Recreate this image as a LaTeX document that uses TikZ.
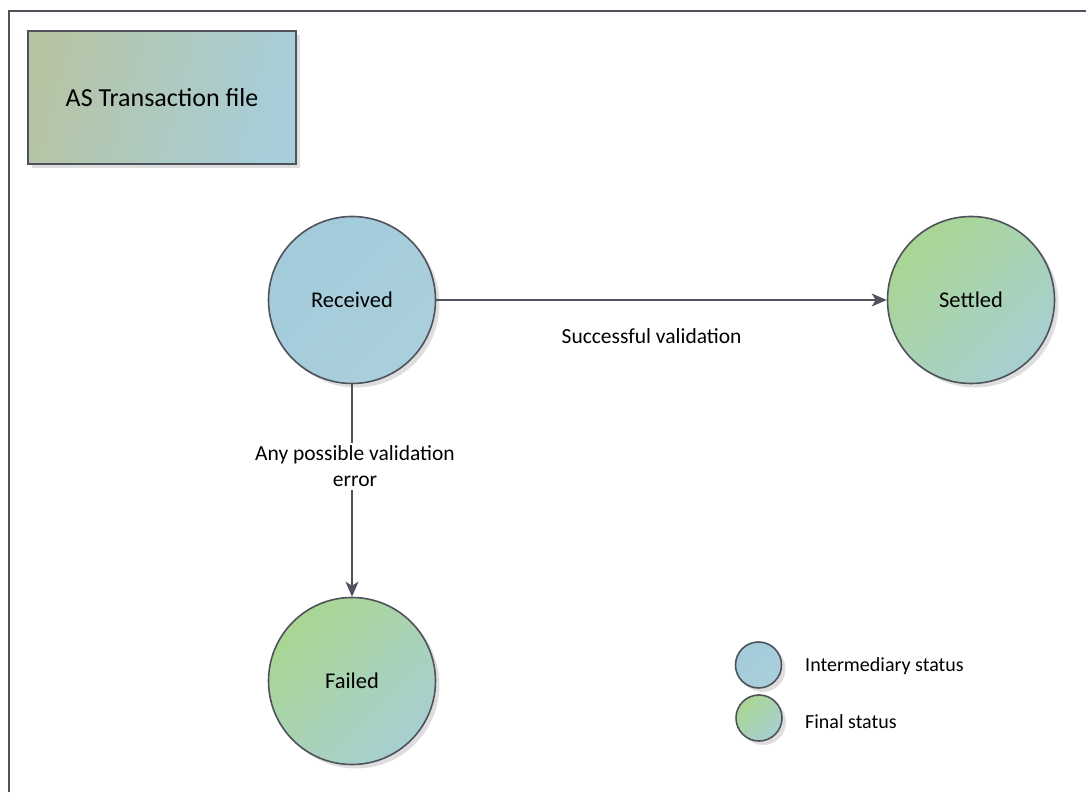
\documentclass[tikz,border=0pt]{standalone}
\usepackage{fontspec}
\setmainfont{Carlito}
\usetikzlibrary{arrows.meta,shadows,positioning}
\definecolor{edgecol}{HTML}{4F525B}
\definecolor{blueA}{HTML}{A3CBDA}
\definecolor{blueB}{HTML}{AACFDC}
\definecolor{greenA}{HTML}{A9D692}
\definecolor{greenB}{HTML}{A8CFD2}
\definecolor{boxA}{HTML}{B6C4A4}
\definecolor{boxB}{HTML}{A7CEDA}
\tikzset{
  x=1pt,y=1pt,
  shade1/.style={drop shadow={shadow xshift=4pt,shadow yshift=-4pt,fill=black!18,opacity=0.7}},
  statebox/.style={circle,draw=edgecol,line width=1.6pt,minimum size=167pt,inner sep=0pt,shade1,font=\fontsize{22.5}{27}\selectfont},
  interstate/.style={statebox,top color=blueA,bottom color=blueB,shading angle=45},
  finalstate/.style={statebox,top color=greenA,bottom color=greenB,shading angle=45},
  legendcirc/.style={circle,draw=edgecol,line width=1.6pt,minimum size=46pt,inner sep=0pt,shade1},
  legendtext/.style={anchor=west,inner sep=0pt,font=\fontsize{20}{24}\selectfont},
  conn/.style={draw=edgecol,line width=1.7pt,-{Stealth[length=15pt,width=13pt,inset=4pt]}},
  edgelabel/.style={fill=white,inner sep=3pt,align=center,font=\fontsize{21.5}{26}\selectfont}
}
\begin{document}
\begin{tikzpicture}
\useasboundingbox (0,0) rectangle (1086,792);
\fill[white] (0,0) rectangle (1086,792);
% frame
\draw[edgecol,line width=2.2pt] (9,0) -- (9,781) -- (1086,781);
% title box
\node[draw=edgecol,line width=1.6pt,minimum width=268pt,minimum height=133pt,inner sep=0pt,
      top color=boxA,bottom color=boxB,shading angle=75,shade1,font=\fontsize{26}{30}\selectfont]
      (title) at (162,694.5) {AS Transaction file};
% states
\node[interstate] (rec) at (352,492) {Received};
\node[finalstate] (set) at (971,492) {Settled};
\node[finalstate] (fail) at (352,111) {Failed};
% connectors
\draw[conn] (rec) -- node[pos=0.478,yshift=-36pt,inner sep=0pt,font=\fontsize{21.5}{26}\selectfont] {Successful validation} (set);
\draw[conn] (rec) -- node[pos=0.385,edgelabel,xshift=3pt] {Any possible validation\\error} (fail);
% legend
\node[legendcirc,top color=blueA,bottom color=blueB,shading angle=45] (lg1) at (758.5,127) {};
\node[legendcirc,top color=greenA,bottom color=greenB,shading angle=45] (lg2) at (759,74) {};
\node[legendtext] (lt1) at (805,126) {Intermediary status};
\node[legendtext] (lt2) at (805,70) {Final status};
\end{tikzpicture}
\end{document}
